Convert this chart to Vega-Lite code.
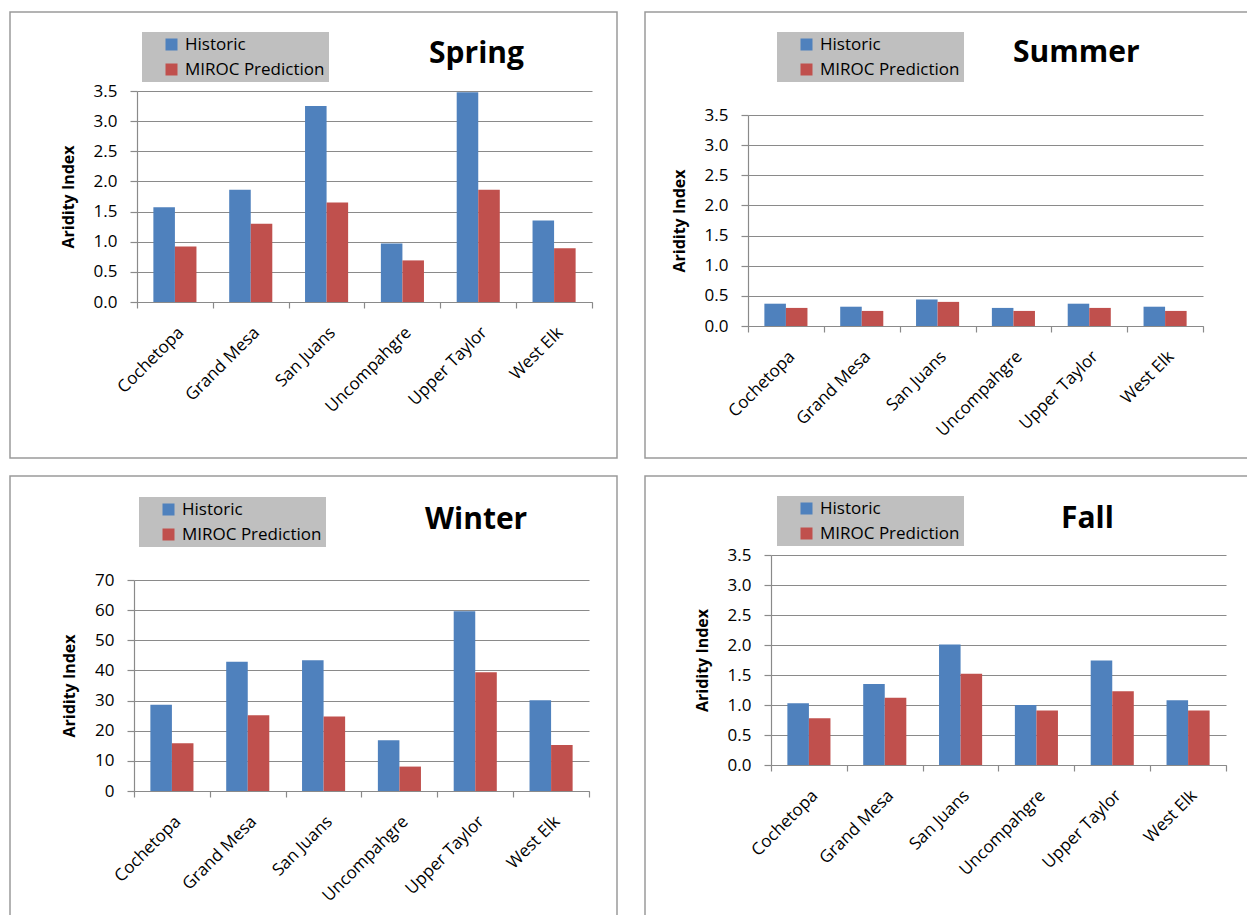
{
  "$schema": "https://vega.github.io/schema/vega-lite/v6.json",
  "background": "white",
  "padding": {"left": 8, "top": 11, "right": 0, "bottom": 0},
  "data": {"values": [
    {"season": "Spring", "site": "Cochetopa", "series": "Historic", "value": 1.57},
    {"season": "Spring", "site": "Cochetopa", "series": "MIROC Prediction", "value": 0.92},
    {"season": "Spring", "site": "Grand Mesa", "series": "Historic", "value": 1.86},
    {"season": "Spring", "site": "Grand Mesa", "series": "MIROC Prediction", "value": 1.30},
    {"season": "Spring", "site": "San Juans", "series": "Historic", "value": 3.25},
    {"season": "Spring", "site": "San Juans", "series": "MIROC Prediction", "value": 1.65},
    {"season": "Spring", "site": "Uncompahgre", "series": "Historic", "value": 0.97},
    {"season": "Spring", "site": "Uncompahgre", "series": "MIROC Prediction", "value": 0.69},
    {"season": "Spring", "site": "Upper Taylor", "series": "Historic", "value": 3.48},
    {"season": "Spring", "site": "Upper Taylor", "series": "MIROC Prediction", "value": 1.86},
    {"season": "Spring", "site": "West Elk", "series": "Historic", "value": 1.35},
    {"season": "Spring", "site": "West Elk", "series": "MIROC Prediction", "value": 0.89},
    {"season": "Summer", "site": "Cochetopa", "series": "Historic", "value": 0.37},
    {"season": "Summer", "site": "Cochetopa", "series": "MIROC Prediction", "value": 0.30},
    {"season": "Summer", "site": "Grand Mesa", "series": "Historic", "value": 0.32},
    {"season": "Summer", "site": "Grand Mesa", "series": "MIROC Prediction", "value": 0.25},
    {"season": "Summer", "site": "San Juans", "series": "Historic", "value": 0.44},
    {"season": "Summer", "site": "San Juans", "series": "MIROC Prediction", "value": 0.40},
    {"season": "Summer", "site": "Uncompahgre", "series": "Historic", "value": 0.30},
    {"season": "Summer", "site": "Uncompahgre", "series": "MIROC Prediction", "value": 0.25},
    {"season": "Summer", "site": "Upper Taylor", "series": "Historic", "value": 0.37},
    {"season": "Summer", "site": "Upper Taylor", "series": "MIROC Prediction", "value": 0.30},
    {"season": "Summer", "site": "West Elk", "series": "Historic", "value": 0.32},
    {"season": "Summer", "site": "West Elk", "series": "MIROC Prediction", "value": 0.25},
    {"season": "Winter", "site": "Cochetopa", "series": "Historic", "value": 28.6},
    {"season": "Winter", "site": "Cochetopa", "series": "MIROC Prediction", "value": 15.8},
    {"season": "Winter", "site": "Grand Mesa", "series": "Historic", "value": 42.9},
    {"season": "Winter", "site": "Grand Mesa", "series": "MIROC Prediction", "value": 25.1},
    {"season": "Winter", "site": "San Juans", "series": "Historic", "value": 43.4},
    {"season": "Winter", "site": "San Juans", "series": "MIROC Prediction", "value": 24.7},
    {"season": "Winter", "site": "Uncompahgre", "series": "Historic", "value": 16.8},
    {"season": "Winter", "site": "Uncompahgre", "series": "MIROC Prediction", "value": 8.1},
    {"season": "Winter", "site": "Upper Taylor", "series": "Historic", "value": 59.6},
    {"season": "Winter", "site": "Upper Taylor", "series": "MIROC Prediction", "value": 39.4},
    {"season": "Winter", "site": "West Elk", "series": "Historic", "value": 30.1},
    {"season": "Winter", "site": "West Elk", "series": "MIROC Prediction", "value": 15.3},
    {"season": "Fall", "site": "Cochetopa", "series": "Historic", "value": 1.03},
    {"season": "Fall", "site": "Cochetopa", "series": "MIROC Prediction", "value": 0.78},
    {"season": "Fall", "site": "Grand Mesa", "series": "Historic", "value": 1.35},
    {"season": "Fall", "site": "Grand Mesa", "series": "MIROC Prediction", "value": 1.12},
    {"season": "Fall", "site": "San Juans", "series": "Historic", "value": 2.01},
    {"season": "Fall", "site": "San Juans", "series": "MIROC Prediction", "value": 1.52},
    {"season": "Fall", "site": "Uncompahgre", "series": "Historic", "value": 1.00},
    {"season": "Fall", "site": "Uncompahgre", "series": "MIROC Prediction", "value": 0.91},
    {"season": "Fall", "site": "Upper Taylor", "series": "Historic", "value": 1.74},
    {"season": "Fall", "site": "Upper Taylor", "series": "MIROC Prediction", "value": 1.23},
    {"season": "Fall", "site": "West Elk", "series": "Historic", "value": 1.08},
    {"season": "Fall", "site": "West Elk", "series": "MIROC Prediction", "value": 0.91}
  ]},
  "columns": 2,
  "spacing": {"row": 16, "column": 25},
  "resolve": {
    "scale": {"x": "independent", "y": "independent", "color": "independent", "xOffset": "independent"},
    "legend": {"color": "independent"},
    "axis": {"x": "independent", "y": "independent"}
  },
  "concat": [
    {
      "width": 607, "height": 446,
      "transform": [{"filter": "datum.season === 'Spring'"}],
      "title": {"text": "Spring", "dx": 419, "dy": 61},
      "mark": {"type": "bar"},
      "encoding": {
        "x": {"field": "site", "type": "nominal", "sort": ["Cochetopa", "Grand Mesa", "San Juans", "Uncompahgre", "Upper Taylor", "West Elk"],
              "scale": {"paddingInner": 0, "paddingOuter": 0, "range": [127, 582]}, "axis": {"offset": -156}},
        "xOffset": {"field": "series", "type": "nominal", "sort": ["Historic", "MIROC Prediction"], "scale": {"paddingInner": 0, "paddingOuter": 0.76}},
        "y": {"field": "value", "type": "quantitative", "scale": {"domain": [0, 3.5], "nice": false, "range": [290, 79]},
              "axis": {"values": [0, 0.5, 1, 1.5, 2, 2.5, 3, 3.5], "format": ".1f", "title": "Aridity Index", "offset": -127}},
        "color": {"field": "series", "type": "nominal", "scale": {"domain": ["Historic", "MIROC Prediction"], "range": ["#4F81BD", "#C0504D"]},
                  "legend": {"orient": "none", "legendX": 132, "legendY": 20}}
      }
    },
    {
      "width": 605, "height": 446,
      "transform": [{"filter": "datum.season === 'Summer'"}],
      "title": {"text": "Summer", "dx": 368, "dy": 60},
      "mark": {"type": "bar"},
      "encoding": {
        "x": {"field": "site", "type": "nominal", "sort": ["Cochetopa", "Grand Mesa", "San Juans", "Uncompahgre", "Upper Taylor", "West Elk"],
              "scale": {"paddingInner": 0, "paddingOuter": 0, "range": [103, 558]}, "axis": {"offset": -132}},
        "xOffset": {"field": "series", "type": "nominal", "sort": ["Historic", "MIROC Prediction"], "scale": {"paddingInner": 0, "paddingOuter": 0.76}},
        "y": {"field": "value", "type": "quantitative", "scale": {"domain": [0, 3.5], "nice": false, "range": [314, 103]},
              "axis": {"values": [0, 0.5, 1, 1.5, 2, 2.5, 3, 3.5], "format": ".1f", "title": "Aridity Index", "offset": -103}},
        "color": {"field": "series", "type": "nominal", "scale": {"domain": ["Historic", "MIROC Prediction"], "range": ["#4F81BD", "#C0504D"]},
                  "legend": {"orient": "none", "legendX": 132, "legendY": 20}}
      }
    },
    {
      "width": 607, "height": 446,
      "transform": [{"filter": "datum.season === 'Winter'"}],
      "title": {"text": "Winter", "dx": 415, "dy": 63},
      "mark": {"type": "bar"},
      "encoding": {
        "x": {"field": "site", "type": "nominal", "sort": ["Cochetopa", "Grand Mesa", "San Juans", "Uncompahgre", "Upper Taylor", "West Elk"],
              "scale": {"paddingInner": 0, "paddingOuter": 0, "range": [124, 579]}, "axis": {"offset": -131}},
        "xOffset": {"field": "series", "type": "nominal", "sort": ["Historic", "MIROC Prediction"], "scale": {"paddingInner": 0, "paddingOuter": 0.76}},
        "y": {"field": "value", "type": "quantitative", "scale": {"domain": [0, 70], "nice": false, "range": [315, 104]},
              "axis": {"values": [0, 10, 20, 30, 40, 50, 60, 70], "format": "d", "title": "Aridity Index", "offset": -124}},
        "color": {"field": "series", "type": "nominal", "scale": {"domain": ["Historic", "MIROC Prediction"], "range": ["#4F81BD", "#C0504D"]},
                  "legend": {"orient": "none", "legendX": 129, "legendY": 21}}
      }
    },
    {
      "width": 605, "height": 446,
      "transform": [{"filter": "datum.season === 'Fall'"}],
      "title": {"text": "Fall", "dx": 416, "dy": 62},
      "mark": {"type": "bar"},
      "encoding": {
        "x": {"field": "site", "type": "nominal", "sort": ["Cochetopa", "Grand Mesa", "San Juans", "Uncompahgre", "Upper Taylor", "West Elk"],
              "scale": {"paddingInner": 0, "paddingOuter": 0, "range": [126, 581]}, "axis": {"offset": -157}},
        "xOffset": {"field": "series", "type": "nominal", "sort": ["Historic", "MIROC Prediction"], "scale": {"paddingInner": 0, "paddingOuter": 0.76}},
        "y": {"field": "value", "type": "quantitative", "scale": {"domain": [0, 3.5], "nice": false, "range": [289, 79]},
              "axis": {"values": [0, 0.5, 1, 1.5, 2, 2.5, 3, 3.5], "format": ".1f", "title": "Aridity Index", "offset": -126}},
        "color": {"field": "series", "type": "nominal", "scale": {"domain": ["Historic", "MIROC Prediction"], "range": ["#4F81BD", "#C0504D"]},
                  "legend": {"orient": "none", "legendX": 132, "legendY": 20}}
      }
    }
  ],
  "config": {
    "view": {"stroke": "#9A9A9A", "strokeWidth": 1.5},
    "font": "Open Sans",
    "title": {"anchor": "start", "frame": "group", "orient": "top", "font": "Open Sans", "fontSize": 30, "fontWeight": "bold", "color": "black", "offset": 0, "baseline": "alphabetic"},
    "axis": {
      "labelFont": "Open Sans", "labelFontSize": 17, "labelColor": "black",
      "titleFont": "Open Sans", "titleFontSize": 16, "titleFontWeight": "bold", "titleColor": "black",
      "domainColor": "#8A8A8A", "tickColor": "#8A8A8A", "gridColor": "#8A8A8A", "gridOpacity": 1,
      "domainWidth": 1.2, "tickWidth": 1.2, "gridWidth": 1.2
    },
    "axisX": {"grid": false, "tickBand": "extent", "labelAngle": -45, "labelPadding": 16, "tickSize": 6, "title": null},
    "axisY": {"grid": true, "tickSize": 7, "labelPadding": 13, "titlePadding": 17},
    "legend": {"fillColor": "#BFBFBF", "padding": 4, "symbolType": "square", "symbolSize": 144, "symbolOffset": 17,
               "labelFont": "Open Sans", "labelFontSize": 17, "labelColor": "black", "rowPadding": 7, "labelOffset": 5, "symbolStrokeWidth": 0,
               "title": " ", "titleOrient": "right", "titlePadding": 20, "titleFontSize": 17}
  }
}
